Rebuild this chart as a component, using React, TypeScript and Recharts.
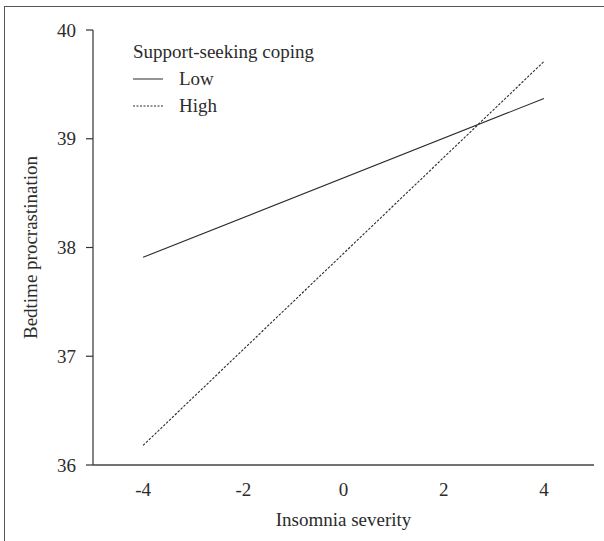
import React from "react";
import { LineChart, Line, XAxis, YAxis } from "recharts";

// simple slopes plot
const xValues = [-4, 4];
const lowValues = [37.91, 39.37];
const highValues = [36.18, 39.71];
const xTicks = [-4, -2, 0, 2, 4];
const yTicks = [36, 37, 38, 39, 40];

const legendTitle = "Support-seeking coping";
const seriesNames = ["Low", "High"];

const FONT = "'Liberation Serif', 'DejaVu Serif', serif";
const INK = "#2b2b2b";
const FS = 19;

const data = xValues.map((x, i) => ({ x, low: lowValues[i], high: highValues[i] }));

function YLabel(props: any) {
  const vb = props.viewBox || {};
  const cx = 30;
  const cy = vb.y + vb.height / 2;
  return (
    <text
      x={cx}
      y={cy}
      transform={`rotate(-90 ${cx} ${cy})`}
      textAnchor="middle"
      dominantBaseline="central"
      fill={INK}
      fontSize={FS}
      fontFamily={FONT}
    >
      Bedtime procrastination
    </text>
  );
}

function LegendBox() {
  return (
    <div
      style={{
        position: "absolute",
        left: 133,
        top: 38,
        fontFamily: FONT,
        fontSize: FS,
        color: INK,
        lineHeight: "27px",
      }}
    >
      <div>{legendTitle}</div>
      {seriesNames.map((name, i) => (
        <div key={name} style={{ display: "flex", alignItems: "center" }}>
          <svg width={30} height={4} style={{ marginRight: 16 }}>
            <line
              x1={0}
              y1={2}
              x2={30}
              y2={2}
              stroke={INK}
              strokeWidth={1}
              strokeDasharray={i === 1 ? "2 1.5" : undefined}
            />
          </svg>
          <span>{name}</span>
        </div>
      ))}
    </div>
  );
}

export default function App() {
  return (
    <div style={{ position: "fixed", left: 0, top: 0, width: 604, height: 541, background: "#fff" }}>
      <div
        style={{
          position: "absolute",
          left: 4,
          top: 6,
          right: -2,
          bottom: -2,
          borderLeft: "1.5px solid #555",
          borderTop: "1.5px solid #555",
        }}
      />
      <LineChart
        width={604}
        height={541}
        data={data}
        margin={{ top: 30, right: 10, left: 0, bottom: 0 }}
        style={{ position: "absolute", left: 0, top: 0 }}
      >
        <XAxis
          dataKey="x"
          type="number"
          domain={[-5, 5]}
          ticks={xTicks}
          height={76}
          tickLine={false}
          tickSize={6}
          tickMargin={12}
          axisLine={{ stroke: "#444", strokeWidth: 1.5 }}
          tick={{ fill: INK, fontSize: FS, fontFamily: FONT }}
          label={{
            value: "Insomnia severity",
            position: "insideBottom",
            offset: 15,
            fill: INK,
            fontSize: FS,
            fontFamily: FONT,
          }}
        />
        <YAxis
          type="number"
          domain={[36, 40]}
          ticks={yTicks}
          width={93}
          tickSize={7}
          tickMargin={10}
          axisLine={{ stroke: "#333", strokeWidth: 1.2 }}
          tickLine={{ stroke: "#333", strokeWidth: 1.2 }}
          tick={{ fill: INK, fontSize: FS, fontFamily: FONT }}
          label={<YLabel />}
        />
        <Line
          dataKey="low"
          name="Low"
          stroke={INK}
          strokeWidth={1.1}
          dot={false}
          isAnimationActive={false}
        />
        <Line
          dataKey="high"
          name="High"
          stroke={INK}
          strokeWidth={1.1}
          strokeDasharray="2.5 1.5"
          dot={false}
          isAnimationActive={false}
        />
      </LineChart>
      <LegendBox />
    </div>
  );
}
